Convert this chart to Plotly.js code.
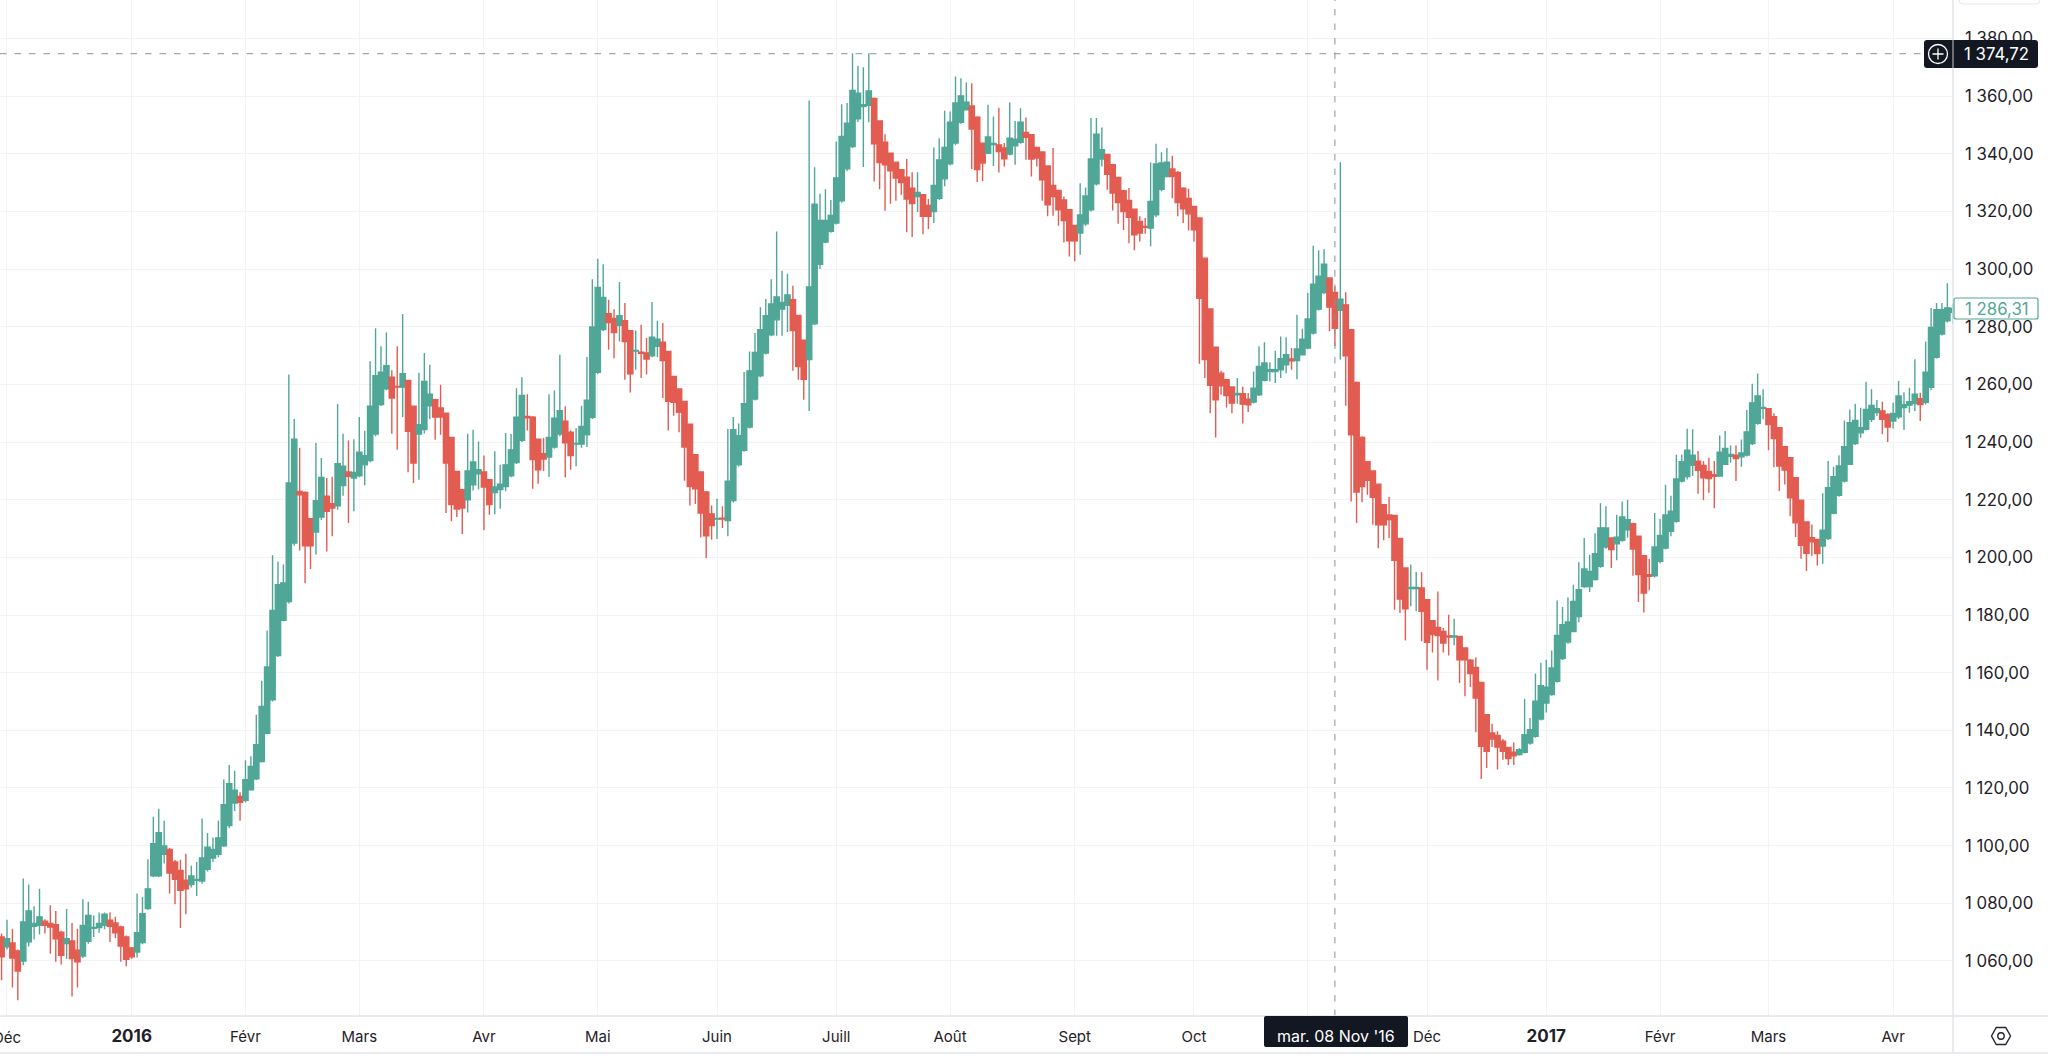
<!DOCTYPE html>
<html>
<head>
<meta charset="utf-8">
<script src="https://cdn.plot.ly/plotly-3.0.1.min.js"></script>
<style>html,body{margin:0;padding:0;background:#fff}#chart{width:2048px;height:1056px}</style>
</head>
<body>
<div id="chart"></div>
<script>
const open = [
1068.3,1064.9,1066.2,1063.5,1060,1066.6,1072,1072.4,1073.8,1073,
1072.6,1070,1066,1066.9,1063.7,1061.7,1066.8,1071.3,1071.6,1072.4,
1074.1,1073.2,1071.8,1068.3,1064.5,1063.1,1066.4,1078.2,1089.5,1089.5,
1097,1098.7,1094.3,1091.4,1088,1086.5,1088,1087.7,1091.8,1095.7,
1097,1099.9,1107,1114.8,1117.1,1115.7,1119.4,1123.2,1129.2,1139,
1150.6,1165.9,1178.2,1184.7,1205,1222.9,1222.5,1213.4,1208.8,1214,
1221.2,1218.6,1217.9,1224.9,1229.6,1227.5,1228.3,1232.1,1233.6,1242.8,
1253,1258.5,1262.5,1259.3,1259.1,1261.4,1252.4,1242.8,1244.3,1252.6,
1254.7,1251.8,1250,1241.6,1229.8,1223.5,1220,1225.2,1229,1229.6,
1226.9,1222.5,1223.5,1224.6,1228.3,1232.9,1240.6,1248.9,1248.6,1241,
1236,1234.8,1238.3,1242.8,1247.2,1243.4,1239.3,1239.3,1242.5,1248.6,
1264.2,1279,1284.5,1282.9,1280.5,1282.1,1278.6,1271.6,1271.2,1270.9,
1269.9,1273.2,1274.6,1271.4,1262.8,1258.4,1254.1,1246.2,1235.6,1229.6,
1222.7,1215.1,1213.3,1213.6,1212.8,1219.7,1232.1,1237.1,1245.2,1254.9,
1263,1270.9,1277.2,1282.4,1286.1,1287.4,1289.4,1283.9,1275.3,1268.6,
1281,1301.7,1309.4,1313.1,1316,1323.7,1334.8,1342.5,1352.1,1356.4,
1356.8,1359.2,1351.4,1344,1340.2,1337.1,1334.5,1331.9,1328.1,1325.2,
1325.8,1322.1,1320,1324.6,1331.3,1336.5,1343.7,1350.9,1355.3,1356.6,
1352.7,1343.7,1340.2,1343.2,1343.1,1342,1339.9,1342.8,1344,1347.4,
1346.6,1342.2,1340.6,1335.8,1329,1327.3,1324,1320.6,1315.1,1312.5,
1315.7,1320.6,1329.6,1338.2,1339.8,1336.2,1331.8,1327.2,1323.8,1320.8,
1316.5,1314.8,1314.2,1318.8,1327.7,1332.1,1334.7,1333.5,1328.1,1324.5,
1321.7,1317.7,1303.8,1286.2,1272.9,1263.9,1261.6,1259.1,1256.4,1256.8,
1254.9,1253.9,1256.4,1261.4,1264.5,1264.5,1265.1,1266.8,1268.8,1268.3,
1270.3,1272.6,1277.8,1286.1,1291.9,1296.9,1291.9,1285.7,1287.6,1279,
1260.7,1241.6,1233.2,1230,1225.4,1218.3,1214.7,1214.5,1206.6,1196.3,
1189.2,1189.2,1189.4,1185.3,1178,1175.7,1174.3,1172.7,1172.4,1172.6,
1168.6,1164.3,1161.8,1156.6,1145.4,1139.1,1138.2,1136.2,1134.1,1132.4,
1131.6,1132.4,1135.6,1137.9,1143.9,1149.5,1152.4,1157,1164.9,1170.6,
1174.3,1179.5,1189.9,1189.9,1192.3,1196.9,1203.6,1206.7,1204.7,1205.9,
1209.6,1211.7,1207.3,1200.6,1194,1193.6,1198.6,1203.2,1209,1212.5,
1226.5,1228,1231.9,1233.4,1231.9,1229.8,1228.7,1228.2,1232.3,1235.1,
1235.4,1234.9,1235.5,1239.5,1246.5,1251.7,1251.6,1248.8,1245,1238.4,
1234.6,1227.6,1219.8,1212.3,1206.8,1206.2,1203.9,1206.5,1215.3,1221.5,
1226.5,1232.3,1239.5,1243.2,1244.4,1247.9,1250.2,1250.8,1249.6,1247.3,
1248.8,1252,1252.8,1253.4,1255,1253.8,1259,1269.4,1277.5,1282.1,
1285];
const high = [
1069.5,1074.3,1071.2,1064,1088.6,1086.5,1079,1085,1074.5,1079.3,
1077.3,1070.5,1078,1073.2,1071.2,1081.4,1080.5,1075.8,1076.8,1076.8,
1076.8,1075.3,1072.2,1068.8,1064.8,1083.4,1082.2,1095.3,1110,1112.8,
1108.6,1099.3,1095,1095.1,1097.2,1093,1094.3,1109.4,1104.4,1102.8,
1108.6,1122.9,1128,1126,1118.5,1129.6,1131,1145.4,1157.2,1174.6,
1200.7,1198.6,1197.5,1263.4,1248,1238,1222.9,1213.6,1239.7,1234.5,
1227.5,1228,1253.2,1242.9,1240.5,1241,1248.7,1243.9,1268,1279.5,
1273.2,1278,1264.9,1273.2,1284.4,1261.4,1252.6,1264,1270.9,1266.8,
1255,1259.9,1250.2,1241.7,1230,1223.7,1242.9,1244.3,1240.2,1235.3,
1227,1236.8,1232.1,1243.1,1242.8,1258.7,1262.5,1256.6,1249,1241.2,
1241.4,1256.6,1257.9,1270.3,1252.4,1244,1244.9,1252.6,1269.5,1296.5,
1303.6,1301.7,1289.4,1286.1,1295.5,1288.2,1278.9,1278.7,1280.7,1276.1,
1288.6,1282.1,1281.3,1271.6,1263,1258.6,1254.3,1246.4,1235.8,1229.8,
1223,1218,1220.3,1217.7,1244.5,1248.7,1246.4,1264.3,1271.4,1277.8,
1286.8,1289.6,1296.5,1313,1299.4,1298.4,1294.2,1284.1,1275.5,1358.5,
1335.3,1326.1,1327.7,1324,1344.3,1357.2,1357.6,1374.9,1370.5,1370,
1374.9,1359.5,1351.6,1346.8,1340.4,1337.3,1334.7,1338.2,1333.6,1333.6,
1326,1324.3,1342.2,1345.4,1354.9,1354.7,1366.8,1366.2,1364.7,1364.5,
1353,1343.9,1357,1352.9,1356,1343.7,1357.8,1351.4,1355.8,1352.6,
1346.8,1342.4,1340.8,1336,1342,1327.5,1325.2,1320.8,1315.3,1329.8,
1328.3,1352.4,1352.4,1349.1,1340,1336.4,1332,1327.4,1328.1,1321,
1318.3,1317.7,1337,1343.5,1340.5,1342,1339.3,1334,1328.4,1327.9,
1322,1318,1304,1286.4,1273.1,1264.7,1261.8,1259.3,1262.2,1259.3,
1257,1264.5,1273.2,1274.6,1267.7,1271.7,1276.6,1276.4,1272.6,1284.2,
1279.3,1291.7,1308.1,1306.5,1306.9,1297.2,1294,1337.1,1292,1279.2,
1261,1242,1233.4,1230.2,1225.6,1218.5,1220.9,1214.7,1206.8,1196.5,
1197.5,1194.9,1194.8,1185.5,1178.2,1188.2,1175.5,1180.1,1178.7,1172.8,
1168.8,1164.7,1165.3,1156.8,1145.6,1142.3,1139.7,1137,1134.3,1135.8,
1133.8,1150.9,1144.3,1159.7,1163.4,1164.5,1167.7,1185,1182.8,1186.1,
1190.5,1198.3,1206.7,1200.9,1208.4,1218.8,1217.7,1207,1214.8,1219.4,
1220,1212,1207.5,1200.8,1199.4,1215.4,1213.3,1225.2,1221.4,1235.6,
1235.7,1244.6,1244.4,1236.9,1233.4,1234.6,1233.4,1242.3,1243.8,1238.8,
1238.8,1240.9,1251.1,1260.2,1263.8,1258.3,1251.8,1250,1245.2,1238.6,
1234.8,1227.8,1220,1212.5,1211.4,1206.4,1222.2,1233.4,1231.4,1235.4,
1247.5,1251.3,1253.3,1251.9,1260.9,1258.3,1254.6,1254,1250,1253.6,
1261.2,1257.3,1258.8,1268.7,1257.1,1274.9,1286.5,1288.2,1288.2,1295.1,
1288];
const low = [
1053.3,1064,1050.8,1046.4,1058.5,1065,1067.4,1069.2,1069.5,1062.5,
1059.7,1058.8,1060.8,1047.7,1050.8,1061,1066,1068.3,1069.8,1071,
1066.6,1068,1059.7,1058.2,1060.8,1061.2,1065.8,1077.8,1089,1089,
1093.8,1083.4,1079.7,1071.4,1076.2,1085.5,1082.5,1086.8,1091,1094.3,
1096,1099.5,1106,1112,1108.6,1115,1119,1122.8,1128.8,1138.6,
1150,1165.4,1177.8,1184,1204,1202.4,1191,1196,1201,1213,
1202,1207.3,1216.5,1221.4,1211.9,1216,1227.8,1225,1233,1242,
1252.5,1258,1242.9,1237.3,1248.7,1229.5,1225.8,1226.9,1243,1248,
1240.8,1242.5,1215.4,1212.5,1214,1208.1,1215.6,1223.2,1223.5,1209.4,
1214.8,1215,1216.9,1222.9,1227.8,1232.4,1240,1244,1223.8,1225.5,
1230,1227.9,1237.7,1242,1227.7,1230.4,1231.6,1238,1238.3,1248,
1263.5,1278.5,1272,1269.1,1274.9,1261.6,1257.2,1265.1,1262.2,1263.4,
1269.4,1269.5,1255.3,1244,1249.1,1243.4,1226.6,1218,1218.5,1207,
1199.8,1206.1,1206.4,1210.2,1207.3,1219,1231.5,1236.6,1244.7,1254.4,
1262.5,1270.4,1276.7,1276.9,1276.9,1278.2,1264.7,1261.6,1254.7,1250.8,
1280.5,1300,1309,1312.6,1315.5,1323,1334,1342,1351,1335.4,
1350.9,1330.4,1327.7,1320.2,1322.7,1323.7,1325.8,1312.8,1311.1,1319.8,
1312.1,1313.9,1316,1324,1328.7,1336,1343,1350.4,1355,1334.7,
1330.2,1330.6,1340,1335.8,1333.5,1335.6,1339.4,1336.2,1343.5,1337.9,
1332.1,1335.6,1323.7,1318.3,1318.5,1315,1309.2,1304.4,1302.7,1305,
1315,1320,1329,1335.6,1327.5,1320.3,1315.7,1313.6,1309,1306.5,
1309.6,1312.3,1307.9,1318,1327,1332,1324.6,1318.3,1316,1313.4,
1309.6,1267.2,1262.2,1250,1241.6,1256.4,1252,1250,1253.3,1246.4,
1250.4,1253.4,1256,1261,1261,1260.5,1262.2,1263.9,1265.1,1261.8,
1270,1272.2,1277.3,1285.6,1291.4,1278.4,1273.2,1268.6,1252.6,1219.4,
1211.9,1219.1,1221.7,1211.3,1203.2,1205.9,1206.7,1181.8,1180.7,1171.2,
1183,1181.3,1170.9,1161,1167,1157.3,1167,1166,1169.5,1156.4,
1151.8,1155,1139.3,1123.1,1126.9,1134.2,1126.4,1129.8,1128,1128,
1131.2,1132,1135,1137.4,1143.4,1146.2,1152,1156.5,1164.4,1170,
1174,1177.5,1189.4,1188,1192,1196.4,1203,1196.3,1199,1205.4,
1206.9,1193.6,1184.5,1180.9,1188.6,1193,1198,1202.7,1207.3,1212,
1226,1227,1228.2,1222.1,1219.8,1222.4,1217,1228,1232,1232.8,
1226.5,1231.4,1235,1239,1246,1247.9,1237.2,1231.3,1223,1225.3,
1214.3,1207.1,1199.5,1195.3,1200.5,1197.2,1197.8,1206,1215,1221,
1226,1232,1239,1241.5,1244,1247,1249,1242.7,1240,1244.7,
1248,1244.2,1250.2,1250.8,1247.3,1253,1258,1269,1277,1281.5,
1281];
const close = [
1061.4,1067.7,1061,1056.5,1073.5,1077.3,1073,1075.3,1072.4,1071.8,
1067.7,1062,1067.7,1060.8,1059.7,1072.3,1075.8,1071.6,1073,1076.2,
1072,1069.8,1065.2,1060.6,1061.4,1069.8,1076.4,1085,1100.7,1104.5,
1099.9,1090.5,1088.3,1084.5,1085,1089.5,1088.3,1095.7,1099.5,1098.7,
1102.7,1114.2,1121.5,1119.2,1115,1122.9,1127.5,1135,1148.3,1162,
1181.6,1190.5,1191.1,1225.8,1241,1221.7,1204,1204,1219.7,1227.7,
1216,1217.1,1232.5,1231.6,1228.1,1229.5,1236.5,1235.3,1252.4,1263,
1264.2,1266.5,1255.3,1259.1,1263.7,1243.7,1232.7,1246,1261,1256.6,
1248.7,1248.7,1232.7,1218.3,1216.8,1217.1,1230,1233.1,1230.4,1224.4,
1218.3,1224.4,1225.4,1232.1,1237.3,1248.6,1256.2,1248.4,1233.9,1230.4,
1234.1,1241.6,1248.3,1250.9,1239.7,1235.3,1239.5,1245.4,1254.5,1279.9,
1293.6,1290.2,1281.5,1278,1283.8,1274.9,1263.7,1271.8,1270.8,1268.8,
1276.4,1275.7,1268.3,1254.1,1253.8,1250.3,1238.3,1224.6,1223.8,1215.4,
1207.5,1211,1213.5,1213.3,1226.4,1244.3,1242.2,1253.3,1264.7,1271.1,
1279,1283.8,1287.9,1290.3,1288.4,1291,1278.7,1266.2,1261.8,1293.8,
1322.5,1316.9,1316.9,1318.6,1331.6,1346,1350.6,1362,1361,1357,
1361.8,1343.5,1337,1336.2,1334.1,1331.6,1330,1324.3,1322.7,1326.6,
1318.3,1318.3,1329,1337.9,1342.2,1351,1357.6,1360.1,1357.9,1348.6,
1334.5,1336.8,1345.8,1343.6,1340.8,1338.3,1345.4,1345.1,1351,1345.7,
1338.2,1338.5,1331,1322.3,1325.2,1320.6,1316.8,1309.8,1309.8,1318.8,
1325.4,1338.2,1346.8,1341.4,1332.9,1326.4,1323.1,1320,1318,1311.9,
1312.5,1314.5,1323.5,1336.5,1336.8,1337.1,1332.1,1323.1,1320.9,1319.2,
1313.6,1289.9,1268.6,1259.7,1254.7,1259.5,1256.1,1253.5,1256.9,1253.2,
1252.9,1258.7,1266.2,1267.4,1265.1,1265.1,1268.9,1270.3,1268.2,1272.3,
1275.7,1282.7,1294.8,1297.5,1301.7,1286.8,1279.5,1289.6,1269.9,1242.5,
1222.7,1224.6,1226.7,1220.8,1211.3,1211.3,1213.1,1199,1185.5,1182.2,
1189.6,1189.6,1181.3,1170.5,1173.2,1172.9,1170.3,1172.4,1172.7,1164.5,
1164.5,1159.7,1151.2,1134.5,1132.7,1137,1134.2,1132.7,1130.2,1131.2,
1133.3,1138.5,1140.2,1150.1,1155.5,1155,1161.6,1172.9,1176.6,1177.6,
1184.7,1188.8,1196,1195.1,1201.3,1210.2,1210.2,1202.7,1207,1214,
1213.1,1202.9,1194,1187.6,1193.4,1203.6,1207.6,1214.7,1216,1227.2,
1233.2,1237.2,1235.4,1230.2,1227.6,1227.3,1228.1,1236.5,1237.8,1235.7,
1234.3,1236.2,1243.5,1253.6,1256,1252,1246.1,1241.2,1231.7,1230.3,
1220.7,1212,1204.2,1201.4,1205.4,1201.3,1209.4,1224.2,1228,1231.7,
1238.4,1246.7,1247.5,1245,1251.3,1252.7,1251.6,1247.9,1245.2,1249.9,
1256,1253,1254,1256.6,1253,1264.2,1279.8,1285.9,1285.9,1286.5,
1286.31];
const barIndex = open.map((v, i) => i);

const monthTicks = [1,24,45,66,89,110,132,154,175,198,220,241,263,285,306,326,349];
const monthLabels = ['','<span style="font-size:17px"><b>2016</b></span>','Févr','Mars','Avr','Mai','Juin','Juill','Août','Sept','Oct','','Déc','<span style="font-size:17px"><b>2017</b></span>','Févr','Mars','Avr'];
const firstMonthLabel = 'Déc';
const priceTicks = [1060,1080,1100,1120,1140,1160,1180,1200,1220,1240,1260,1280,1300,1320,1340,1360,1380];
const priceLabels = ['1 060,00','1 080,00','1 100,00','1 120,00','1 140,00','1 160,00','1 180,00','1 200,00','1 220,00','1 240,00','1 260,00','1 280,00','1 300,00','1 320,00','1 340,00','1 360,00','1 380,00'];

const crossBar = 246;
const crossPrice = 1374.72;
const crossPriceLabel = '1 374,72';
const crossDateLabel = "mar. 08 Nov '16";
const lastPriceLabel = '1 286,31';

const GREEN = '#50a797', RED = '#e25c51', INK = '#131722', GRID = '#f3f3f6', EDGE = '#e3e4e8';
const W = 2048, H = 1056, PW = 1953, PH = 1016;
const X = x => x / PW, Y = y => 1 - y / PH;

function px(path, fill, line, lw) {
  return {type:'path', layer:'above', xref:'paper', yref:'paper', xsizemode:'pixel', ysizemode:'pixel',
    xanchor:0, yanchor:1, path, fillcolor:fill||'rgba(0,0,0,0)', line:{color:line||'rgba(0,0,0,0)', width:lw||0}};
}
const P = (x, y) => x + ',' + (-y);
function roundRect(x0,y0,x1,y1,r){
  return 'M'+P(x0+r,y0)+' L'+P(x1-r,y0)+' Q'+P(x1,y0)+' '+P(x1,y0+r)+' L'+P(x1,y1-r)+' Q'+P(x1,y1)+' '+P(x1-r,y1)+
    ' L'+P(x0+r,y1)+' Q'+P(x0,y1)+' '+P(x0,y1-r)+' L'+P(x0,y0+r)+' Q'+P(x0,y0)+' '+P(x0+r,y0)+' Z';
}
function circle(cx,cy,r){
  const k = r*0.5523;
  return 'M'+P(cx-r,cy)+' C'+P(cx-r,cy-k)+' '+P(cx-k,cy-r)+' '+P(cx,cy-r)+' C'+P(cx+k,cy-r)+' '+P(cx+r,cy-k)+' '+P(cx+r,cy)+
    ' C'+P(cx+r,cy+k)+' '+P(cx+k,cy+r)+' '+P(cx,cy+r)+' C'+P(cx-k,cy+r)+' '+P(cx-r,cy+k)+' '+P(cx-r,cy)+' Z';
}
function hexagon(cx,cy,rx,ry){
  return 'M'+P(cx-rx,cy)+' L'+P(cx-rx/2,cy-ry)+' L'+P(cx+rx/2,cy-ry)+' L'+P(cx+rx,cy)+' L'+P(cx+rx/2,cy+ry)+' L'+P(cx-rx/2,cy+ry)+' Z';
}

const trace = {
  type:'candlestick', x:barIndex, open, high, low, close,
  increasing:{line:{color:GREEN,width:1.4}, fillcolor:GREEN},
  decreasing:{line:{color:RED,width:1.4}, fillcolor:RED},
  whiskerwidth:0, hoverinfo:'skip', showlegend:false
};

const shapes = [
  {type:'line', xref:'paper', yref:'y', x0:0, x1:X(1924), y0:crossPrice, y1:crossPrice, line:{color:'#8f9198',width:1,dash:'6.5px 8px'}},
  {type:'line', xref:'x', yref:'paper', x0:crossBar, x1:crossBar, y0:0, y1:1, line:{color:'#8f9198',width:1,dash:'6.5px 8px'}},
  {type:'line', xref:'paper', yref:'paper', x0:1, x1:1, y0:Y(0), y1:Y(1053), line:{color:EDGE,width:1.5}},
  {type:'line', xref:'paper', yref:'paper', x0:0, x1:X(W), y0:Y(1016), y1:Y(1016), line:{color:EDGE,width:1.5}},
  {type:'line', xref:'paper', yref:'paper', x0:0, x1:X(W), y0:Y(1053), y1:Y(1053), line:{color:EDGE,width:1.5}},
  px(roundRect(1959,-8,2040,4,4), '#ffffff', '#e6e7ea', 1),
  px(roundRect(1954,298,2038,319,2), '#ffffff', GREEN, 1.2),
  px(roundRect(1924,40,2038,68,3), INK),
  {type:'line', xref:'paper', yref:'paper', x0:1, x1:1, y0:Y(40), y1:Y(68), line:{color:'#c9cad0',width:1}},
  px(circle(1938,54,9.5), 'rgba(0,0,0,0)', '#ffffff', 1.3),
  px('M'+P(1932.5,54)+' L'+P(1943.5,54)+' M'+P(1938,48.5)+' L'+P(1938,59.5), null, '#ffffff', 1.3),
  px(roundRect(1264,1016,1408,1047,2), INK),
  px(hexagon(2001,1036,9.5,8.5), null, '#24262d', 1.4),
  px(circle(2001,1036,3.2), null, '#24262d', 1.4)
];

const annotations = [
  {xref:'paper', yref:'paper', x:X(1996.5), y:Y(54), text:crossPriceLabel, showarrow:false, xanchor:'center', yanchor:'middle', font:{family:'Inter',size:16.8,color:'#ffffff'}},
  {xref:'paper', yref:'paper', x:X(1336), y:Y(1036), text:crossDateLabel, showarrow:false, xanchor:'center', yanchor:'middle', font:{family:'Inter',size:16,color:'#ffffff'}},
  {xref:'paper', yref:'paper', x:X(1996.5), y:Y(308.5), text:lastPriceLabel, showarrow:false, xanchor:'center', yanchor:'middle', font:{family:'Inter',size:16.8,color:GREEN}},
  {xref:'paper', yref:'paper', x:X(7), y:Y(1037), text:firstMonthLabel, showarrow:false, xanchor:'center', yanchor:'middle', font:{family:'Inter',size:15,color:'#1f2128'}}
];

const layout = {
  width:W, height:H, autosize:false,
  margin:{l:0, r:W-PW, t:0, b:H-PH, pad:0},
  paper_bgcolor:'#ffffff', plot_bgcolor:'#ffffff',
  showlegend:false, boxgap:0.03, boxgroupgap:0, dragmode:false,
  font:{family:'Inter', color:'#1f2128', size:16},
  xaxis:{type:'linear', range:[-0.29,360.04], rangeslider:{visible:false}, tickmode:'array', tickvals:monthTicks, ticktext:monthLabels,
    ticks:'', showline:false, showgrid:true, gridcolor:GRID, gridwidth:1, zeroline:false, tickangle:0, ticklabelstandoff:10, tickfont:{family:'Inter',size:15,color:'#1f2128'}},
  yaxis:{type:'linear', side:'right', range:[1040.9,1393.35], tickmode:'array', tickvals:priceTicks, ticktext:priceLabels,
    ticks:'', showline:false, showgrid:true, gridcolor:GRID, gridwidth:1, zeroline:false, ticklabelstandoff:11, tickfont:{family:'Inter',size:16.8,color:'#1f2128'}},
  shapes, annotations
};

Plotly.newPlot('chart', [trace], layout, {displayModeBar:false, staticPlot:true});
</script>
</body>
</html>
